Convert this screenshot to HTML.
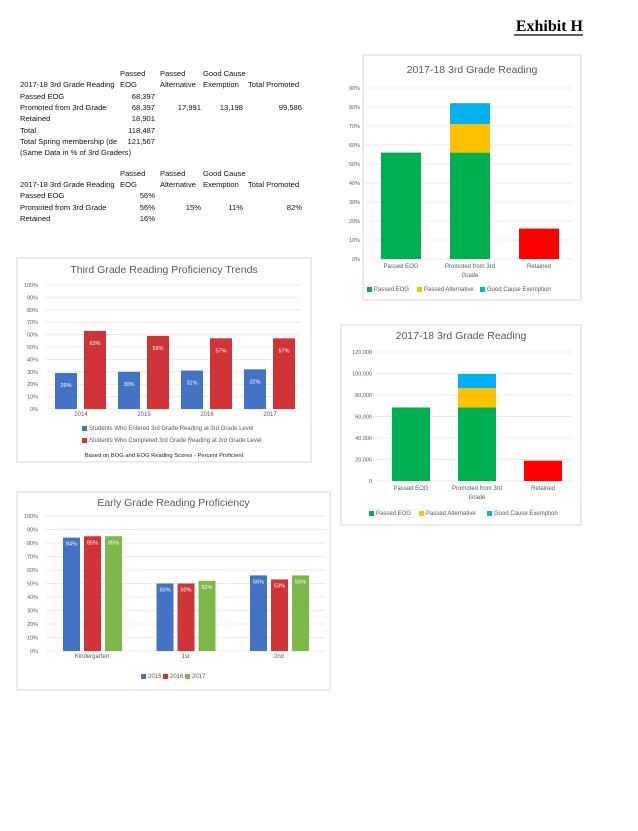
<!DOCTYPE html>
<html><head><meta charset="utf-8"><style>
body{margin:0;background:#fff;width:638px;height:826px;overflow:hidden;font-family:"Liberation Sans",sans-serif}
svg text{font-family:"Liberation Sans",sans-serif}
</style></head><body>
<svg id="s" width="638" height="826">
<text x="583" y="31" text-anchor="end" font-family="Liberation Serif" font-weight="bold" font-size="16" style="font-family:'Liberation Serif',serif">Exhibit H</text>
<line x1="514" y1="35" x2="583" y2="35" stroke="#000" stroke-width="1.3"/>
<g id="tbl" font-size="7.6" fill="#111"></g>
<g id="cA"></g>
<g id="cB"></g>
<g id="cC"></g>
<g id="cD"></g>
</svg>
<script>
// ---- data ----
const stackCats = ["Passed EOG","Promoted from 3rd|Grade","Retained"];
const pctEOG = [56, 56, 0];
const pctAlt = [0, 15, 0];
const pctGood = [0, 11, 0];
const pctRet = [0, 0, 16];
const cntEOG = [68397, 68397, 0];
const cntAlt = [0, 17991, 0];
const cntGood = [0, 13198, 0];
const cntRet = [0, 0, 18901];
const trendYears = ["2014","2015","2016","2017"];
const trendEntered = [29, 30, 31, 32];
const trendCompleted = [63, 59, 57, 57];
const earlyCats = ["Kindergarten","1st","2nd"];
const early2015 = [84, 50, 56];
const early2016 = [85, 50, 53];
const early2017 = [85, 52, 56];
const pctTicks = [0,10,20,30,40,50,60,70,80,90,100];
const cntTicks = [0,20000,40000,60000,80000,100000,120000];

const NS="http://www.w3.org/2000/svg";
function el(p,t,a,txt){const e=document.createElementNS(NS,t);for(const k in a)e.setAttribute(k,a[k]);if(txt!==undefined)e.textContent=txt;p.appendChild(e);return e;}
function tx(p,x,y,s,o){o=o||{};const e=el(p,'text',Object.assign({x:x,y:y,'font-size':o.fs||7,fill:o.fill||'#595959','text-anchor':o.a||'middle'},o.extra||{}),s);return e;}

// ---- table ----
const T=document.getElementById('tbl');
function row(y,cells){cells.forEach(c=>{const e=tx(T,c[0],y,c[1],{fs:7.6,fill:'#111',a:c[2]||'start'});});}
function header(y){row(y,[[120,'Passed'],[160,'Passed'],[203,'Good Cause']]);row(y+11,[[20,'2017-18 3rd Grade Reading'],[120,'EOG'],[160,'Alternative'],[203,'Exemption'],[248,'Total Promoted']]);}
header(76);
row(99,[[20,'Passed EOG'],[155,'68,397','end']]);
row(110,[[20,'Promoted from 3rd Grade'],[155,'68,397','end'],[201,'17,991','end'],[243,'13,198','end'],[302,'99,586','end']]);
row(121,[[20,'Retained'],[155,'18,901','end']]);
row(133,[[20,'Total'],[155,'118,487','end']]);
row(144,[[20,'Total Spring membership (de'],[155,'121,567','end']]);
row(155,[[20,'(Same Data in % of 3rd Graders)']]);
header(176);
row(198,[[20,'Passed EOG'],[155,'56%','end']]);
row(210,[[20,'Promoted from 3rd Grade'],[155,'56%','end'],[201,'15%','end'],[243,'11%','end'],[302,'82%','end']]);
row(221,[[20,'Retained'],[155,'16%','end']]);

function frame(g,x,y,w,h,title,ty){el(g,'rect',{x:x,y:y,width:w,height:h,fill:'#fff',stroke:'#d9d9d9'});const t=tx(g,x+w/2,ty,title,{fs:10.5,fill:'#595959'});}
function legend(g,y,items,startX,gap){let x=startX;items.forEach((it,i)=>{const r=el(g,'rect',{x:x,y:y-4,width:5,height:5,fill:it[1]});const t=tx(g,x+7,y,it[0],{fs:6,a:'start'});x+=gap[i];});}

// ---- stacked charts ----
function stacked(g,cfg){
  const ys=v=>cfg.y0-(v-cfg.min)/(cfg.max-cfg.min)*(cfg.y0-cfg.y1);
  cfg.ticks.forEach(t=>{el(g,'line',{x1:cfg.px0,x2:cfg.px1,y1:ys(t),y2:ys(t),stroke:'#e3e3e3','stroke-width':0.8});tx(g,cfg.lx,ys(t)+2,cfg.fmt(t),{fs:5.5,a:'end'});});
  const series=[[cfg.s[0],'#00B050'],[cfg.s[1],'#FFC000'],[cfg.s[2],'#00B0F0'],[cfg.s[3],'#FF0000']];
  stackCats.forEach((c,i)=>{
    const cx=cfg.cx0+i*cfg.step;let acc=0;
    series.forEach(([arr,col])=>{const v=arr[i];if(!v)return;const r=el(g,'rect',{x:cx-cfg.bw/2,y:ys(acc+v),width:cfg.bw,height:ys(acc)-ys(acc+v),fill:col});
      acc+=v;});
    c.split('|').forEach((ln,k)=>tx(g,cx,cfg.y0+9+k*9,ln,{fs:6}));
  });
}
const A=document.getElementById('cA');
frame(A,363,55,218,245,'2017-18 3rd Grade Reading',73);
stacked(A,{min:0,max:90,ticks:[0,10,20,30,40,50,60,70,80,90],y0:259,y1:88,px0:365,px1:572,lx:360,cx0:401,step:69,bw:40,s:[pctEOG,pctAlt,pctGood,pctRet],fmt:t=>t+'%'});
legend(A,291,[['Passed EOG','#00B050'],['Passed Alternative','#FFC000'],['Good Cause Exemption','#00B0F0']],367,[50,63,0]);
const B=document.getElementById('cB');
frame(B,341,325,240,200,'2017-18 3rd Grade Reading',339);
stacked(B,{min:0,max:120000,ticks:cntTicks,y0:481,y1:352,px0:376,px1:572,lx:372,cx0:411,step:66,bw:38,s:[cntEOG,cntAlt,cntGood,cntRet],fmt:t=>t.toLocaleString('en-US')});
legend(B,515,[['Passed EOG','#00B050'],['Passed Alternative','#FFC000'],['Good Cause Exemption','#00B0F0']],369,[50,68,0]);

// ---- grouped charts ----
function grouped(g,cfg){
  const ys=v=>cfg.y0-v/100*(cfg.y0-cfg.y1);
  pctTicks.forEach(t=>{el(g,'line',{x1:cfg.px0,x2:cfg.px1,y1:ys(t),y2:ys(t),stroke:'#e3e3e3','stroke-width':0.8});tx(g,cfg.lx,ys(t)+2,t+'%',{fs:5.5,a:'end'});});
  cfg.cats.forEach((c,i)=>{
    const gx=cfg.gx0+i*cfg.step;
    cfg.series.forEach((s,j)=>{const v=s[0][i];const x=gx+j*cfg.off;
      const r=el(g,'rect',{x:x,y:ys(v),width:cfg.bw,height:ys(0)-ys(v),fill:s[1]});
      tx(g,x+cfg.bw/2,ys(v)+cfg.lo,v+'%',{fs:5.5,fill:'#fff'});});
    tx(g,gx+cfg.labOff,cfg.y0+7,c,{fs:6});
  });
}
const C=document.getElementById('cC');
frame(C,17,258,294,204,'Third Grade Reading Proficiency Trends',273);
grouped(C,{cats:trendYears,series:[[trendEntered,'#4472C4'],[trendCompleted,'#D13438']],y0:409,y1:285,px0:46,px1:300,lx:38,gx0:55,step:63,off:29,bw:22,lo:14,labOff:26});
legend(C,430,[['Students Who Entered 3rd Grade Reading at 3rd Grade Level','#4472C4']],82,[0]);
legend(C,442,[['Students Who Completed 3rd Grade Reading at 3rd Grade Level','#D13438']],82,[0]);
tx(C,164,457,'Based on BOG and EOG Reading Scores - Percent Proficient',{fs:5.8,fill:'#222'});
const D=document.getElementById('cD');
frame(D,17,492,313,198,'Early Grade Reading Proficiency',506);
grouped(D,{cats:earlyCats,series:[[early2015,'#4472C4'],[early2016,'#D13438'],[early2017,'#7CB94A']],y0:651,y1:516,px0:46,px1:325,lx:38,gx0:63,step:93.5,off:21,bw:17,lo:8,labOff:29});
legend(D,678,[['2015','#4472C4'],['2016','#D13438'],['2017','#7CB94A']],141,[22,22,22]);
</script>
</body></html>
